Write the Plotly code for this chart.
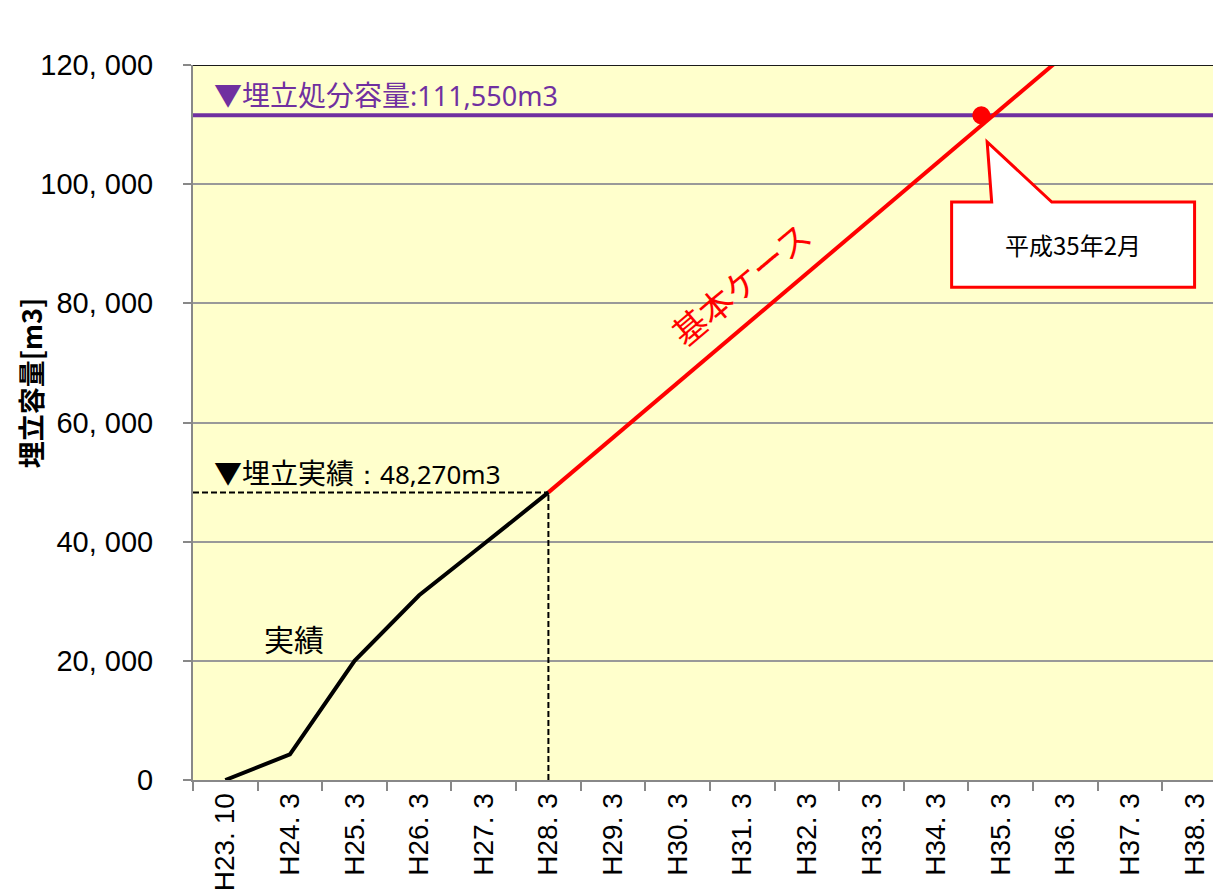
import plotly.graph_objects as go

# Fiscal-period categories on the x axis
periods = ["H23. 10", "H24. 3", "H25. 3", "H26. 3", "H27. 3", "H28. 3", "H29. 3", "H30. 3",
           "H31. 3", "H32. 3", "H33. 3", "H34. 3", "H35. 3", "H36. 3", "H37. 3", "H38. 3"]

# Recorded landfill volume (m3), H23.10 .. H28.3
actual_idx = [0, 1, 2, 3, 4, 5]
actual_vol = [0, 4300, 20000, 31000, 39600, 48270]

# Base-case projection (m3), H28.3 .. H36.3
base_idx = [5, 6, 7, 8, 9, 10, 11, 12, 13]
base_vol = [48270, 57460, 66650, 75840, 85030, 94220, 103410, 112600, 121790]

capacity = 111550          # landfill disposal capacity (m3)
record_latest = 48270      # recorded volume at H28.3
full_x, full_y = 11.7, 111550   # capacity reached: H35 February
full_label = "平成35年2月"

y_ticks = [0, 20000, 40000, 60000, 80000, 100000, 120000]
y_ticktext = ["0", "20, 000", "40, 000", "60, 000", "80, 000", "100, 000", "120, 000"]

PURPLE = "#7030A0"
RED = "#FF0000"
CJK = "Noto Sans CJK JP"
SANS = "Liberation Sans, Arial, sans-serif"

X_MIN, X_MAX = -0.5, 15.285

fig = go.Figure()

# capacity line
fig.add_trace(go.Scatter(x=[X_MIN, X_MAX], y=[capacity, capacity], mode="lines",
                         line=dict(color=PURPLE, width=4), hoverinfo="skip"))
# projection
fig.add_trace(go.Scatter(x=base_idx, y=base_vol, mode="lines",
                         line=dict(color=RED, width=4)))
# actual record
fig.add_trace(go.Scatter(x=actual_idx, y=actual_vol, mode="lines",
                         line=dict(color="black", width=4)))
# point where capacity is reached
fig.add_trace(go.Scatter(x=[full_x], y=[full_y], mode="markers",
                         marker=dict(color=RED, size=18)))

shapes = [
    # dashed guides for the latest record
    dict(type="line", xref="x", yref="y", x0=X_MIN, x1=actual_idx[-1], y0=record_latest, y1=record_latest,
         line=dict(color="black", width=2, dash="6px,3px")),
    dict(type="line", xref="x", yref="y", x0=actual_idx[-1], x1=actual_idx[-1], y0=0, y1=record_latest,
         line=dict(color="black", width=2, dash="6px,3px")),
    # dark top border of the plot area
    dict(type="line", xref="x", yref="y", x0=X_MIN, x1=X_MAX, y0=120000, y1=120000,
         line=dict(color="#1a1a1a", width=2)),
]

# speech-bubble callout below the capacity point
bx0, bx1, by0, by1 = full_x - 0.46, full_x + 3.3, full_y - 28850, full_y - 14550
tip_x, tip_y = full_x + 0.09, full_y - 4450
tail_l, tail_r = full_x + 0.16, full_x + 1.09
callout = (f"M {bx0},{by1} L {tail_l},{by1} L {tip_x},{tip_y} L {tail_r},{by1} "
           f"L {bx1},{by1} L {bx1},{by0} L {bx0},{by0} Z")
shapes.append(dict(type="path", xref="x", yref="y", path=callout,
                   fillcolor="white", line=dict(color=RED, width=3), layer="above"))

annotations = [
    dict(x=-0.2, y=capacity, xref="x", yref="y", xanchor="left", yanchor="bottom", yshift=-1,
         showarrow=False,
         text="▼埋立処分容量<span style='font-family:Noto Sans; font-size:27px'>:111,550m3</span>",
         font=dict(family=CJK, size=28, color=PURPLE)),
    dict(x=-0.2, y=record_latest, xref="x", yref="y", xanchor="left", yanchor="bottom", yshift=-2,
         showarrow=False,
         text="▼埋立実績<span style='font-family:Noto Sans; font-size:26px'>：48,270m3</span>",
         font=dict(family=CJK, size=28, color="black")),
    dict(x=1.07, y=23800, xref="x", yref="y", showarrow=False, text="実績",
         font=dict(family=CJK, size=30, color="black")),
    dict(x=7.96, y=83400, xref="x", yref="y", showarrow=False, text="基本ケース", textangle=-40,
         font=dict(family=CJK, size=34, color=RED)),
    dict(x=(bx0 + bx1) / 2, y=(by0 + by1) / 2, xref="x", yref="y", showarrow=False, text=full_label,
         font=dict(family=CJK, size=24, color="black")),
    dict(x=-163 / 1020, y=0.555, xref="paper", yref="paper", xanchor="center", yanchor="middle",
         showarrow=False, text="埋立容量[m3]",
         textangle=-90, font=dict(family=CJK, size=27, color="black", weight="bold")),
]

fig.update_layout(
    width=1213, height=891,
    margin=dict(l=193, r=0, t=65, b=111, pad=0),
    paper_bgcolor="white", plot_bgcolor="#FFFFCC",
    showlegend=False,
    shapes=shapes, annotations=annotations,
    xaxis=dict(range=[X_MIN, X_MAX], tickmode="array", tickvals=list(range(len(periods))),
               ticktext=periods, tickangle=-90, ticks="", showgrid=False, zeroline=False,
               showline=True, linecolor="#888888", linewidth=2,
               tickfont=dict(family=SANS, size=28, color="black"),
               minor=dict(tickmode="linear", tick0=-0.5, dtick=1, ticks="outside", ticklen=9,
                          tickcolor="#888888", tickwidth=2, showgrid=False)),
    yaxis=dict(range=[0, 120000], tickmode="array", tickvals=y_ticks, ticktext=y_ticktext,
               ticks="outside", ticklen=8, tickcolor="#888888", tickwidth=2,
               ticklabelstandoff=24,
               showgrid=True, gridcolor="#999999", gridwidth=1.5, zeroline=False,
               showline=True, linecolor="#888888", linewidth=2,
               tickfont=dict(family=SANS, size=29, color="black")),
)

fig.write_html("out.html")
